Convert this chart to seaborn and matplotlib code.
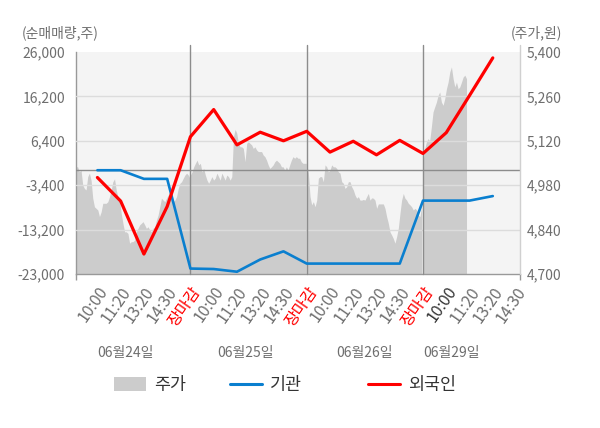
import numpy as np
import pandas as pd
import matplotlib
matplotlib.use("Agg")
import matplotlib.pyplot as plt
import seaborn as sns
from matplotlib.patches import Patch
from matplotlib.lines import Line2D

# ---------------- data ----------------
day_labels = ["06월24일", "06월25일", "06월26일", "06월29일"]
slot_labels = (["10:00", "11:20", "13:20", "14:30", "장마감"] * 3
               + ["10:00", "11:20", "13:20", "14:30"])

# estimated net buying (shares) at 10:00, 11:20, 13:20, 14:30, close
foreign = [-1700, -6900, -18600, -8100, 7300,
           13300, 5500, 8300, 6400, 8500,
           3900, 6300, 3300, 6500, 3600,
           8200, 16400, 24700]
institution = [-100, -100, -2000, -2000, -21800,
               -21900, -22500, -19800, -18000, -20700,
               -20700, -20700, -20700, -20700, -6800,
               -6800, -6800, -5800]

# intraday price (won), sampled evenly through each session
price_d1 = [5038, 5038, 5022, 5028, 4981, 4970, 4965, 5007, 5018, 4996,
            4939, 4912, 4907, 4902, 4881, 4896, 4923, 4923, 4923, 4928,
            4944, 4965, 4991, 5000, 4965, 4944, 4933, 4891, 4860, 4833,
            4833, 4828, 4797, 4802, 4802, 4807, 4833, 4844, 4855, 4860,
            4865, 4855, 4844, 4849, 4839, 4833, 4844, 4849, 4870, 4886,
            4912, 4939, 4933, 4928, 4939, 4949, 4954, 4944, 4928, 4933,
            4944, 4970, 4986, 4991, 5002, 5012, 5018, 5012, 5002]
price_d2 = [5012, 5022, 5038, 5049, 5059, 5044, 5049, 5022, 5033, 5012,
            4996, 4986, 4996, 5007, 4996, 5002, 5018, 5007, 4996, 5018,
            5007, 4996, 5012, 5007, 4996, 5007, 5133, 5156, 5144, 5112,
            5101, 5101, 5096, 5054, 5112, 5117, 5112, 5107, 5096, 5101,
            5091, 5086, 5086, 5086, 5075, 5070, 5059, 5044, 5033, 5038,
            5044, 5054, 5059, 5054, 5049, 5038, 5038, 5028, 5038, 5028,
            5044, 5059, 5070, 5065, 5070, 5065, 5065, 5054, 5049, 5049,
            5049]
price_d3 = [5049, 5018, 4944, 4918, 4928, 4912, 4933, 5002, 5007, 5007,
            4991, 5044, 5038, 5022, 5028, 5044, 5038, 5038, 5033, 5022,
            5018, 4991, 4986, 4970, 4975, 4991, 4991, 4975, 4965, 4949,
            4939, 4944, 4933, 4933, 4935, 4933, 4944, 4954, 4933, 4940,
            4939, 4933, 4907, 4921, 4921, 4921, 4921, 4907, 4881, 4860,
            4833, 4823, 4812, 4797, 4818, 4844, 4891, 4933, 4954, 4939,
            4933, 4923, 4918, 4912, 4902, 4907, 4902, 4886, 4881, 4912]
price_d4 = [5053, 5095, 5116, 5127, 5120, 5164, 5211, 5227, 5242, 5263,
            5274, 5242, 5232, 5253, 5284, 5305, 5337, 5353, 5316, 5290,
            5305, 5284, 5290, 5305, 5321, 5327, 5316]

left_ticks = [26000, 16200, 6400, -3400, -13200, -23000]
right_ticks = [5400, 5260, 5120, 4980, 4840, 4700]

# ---------------- layout ----------------
W, H = 600, 428
X0, X1 = 0.08, 19.17
day_spans = [(0.08, 4.98), (5.0, 9.98), (10.0, 14.94), (15.0, 16.87)]
date_label_x = [2.19, 7.35, 12.5, 16.24]

sns.set_theme(style="white")
plt.rcParams["font.family"] = ["Noto Sans CJK KR", "DejaVu Sans"]

GRAY_TXT = "#6e6e6e"
AREA = "#cccccc"
RED = "#ff0000"
BLUE = "#0a7fcf"

fig = plt.figure(figsize=(W / 100, H / 100), dpi=100)
ax = fig.add_axes([76 / W, 1 - 274 / H, 444 / W, 222 / H])
axL = ax.twinx()
ax.yaxis.tick_right()
axL.yaxis.tick_left()

ax.set_facecolor("#f4f4f4")

# price area
for vals, (s0, s1) in zip([price_d1, price_d2, price_d3, price_d4], day_spans):
    xs = np.linspace(s0, s1, len(vals))
    ax.fill_between(xs, 4700, vals, color=AREA, lw=0, zorder=1)
ax.set_ylim(4700, 5400)
ax.set_xlim(X0, X1)

# grid & separators on the top axes (below the lines)
for v in left_ticks[1:-1]:
    axL.axhline(v, color="#dcdcdc", lw=1, zorder=1)
axL.axhline(0, color="#8c8c8c", lw=1, zorder=1.5)
ext = 1 + 7 / 222
for s in [5, 10, 15]:
    axL.axvline(s, ymin=0, ymax=ext, color="#8c8c8c", lw=1, clip_on=False, zorder=1.5)
axL.axvline(X1, ymin=0, ymax=ext, color="#d0d0d0", lw=1, clip_on=False, zorder=1.5)

# lines
slot_x = np.arange(1, len(foreign) + 1)
df = pd.DataFrame({"slot": slot_x, "foreign": foreign, "institution": institution})
sns.lineplot(data=df, x="slot", y="institution", ax=axL, color=BLUE, lw=1.9,
             legend=False, zorder=3)
sns.lineplot(data=df, x="slot", y="foreign", ax=axL, color=RED, lw=2.3,
             legend=False, zorder=4)
axL.set_ylim(-23000, 26000)
axL.set_xlim(X0, X1)
axL.set_xlabel("")
axL.set_ylabel("")
ax.set_ylabel("")

# spines
for sp in axL.spines.values():
    sp.set_visible(False)
ax.spines["top"].set_visible(False)
ax.spines["right"].set_visible(False)
ax.spines["left"].set_color("#999999")
ax.spines["bottom"].set_color("#999999")
ax.spines["left"].set_linewidth(1)
ax.spines["bottom"].set_linewidth(1)

# y ticks
axL.set_yticks(left_ticks)
axL.set_yticklabels([f"{v:,}" for v in left_ticks])
axL.tick_params(axis="y", length=0, pad=8, labelsize=10, labelcolor=GRAY_TXT)
ax.set_yticks(right_ticks)
ax.set_yticklabels([f"{v:,}" for v in right_ticks])
ax.tick_params(axis="y", length=0, pad=5, labelsize=10, labelcolor=GRAY_TXT)

# x ticks
ax.set_xticks(np.arange(1, len(slot_labels) + 1))
ax.set_xticklabels(slot_labels)
ax.set_xticks([X0, 5, 10, 15, X1], minor=True)
ax.tick_params(axis="x", which="major", length=0, pad=7, labelsize=11.5)
ax.tick_params(axis="x", which="minor", length=4, width=1, color="#999999",
               direction="out", bottom=True)
for i, lab in enumerate(ax.get_xticklabels()):
    lab.set_rotation(55)
    lab.set_ha("right")
    lab.set_va("top")
    lab.set_rotation_mode("anchor")
    txt = slot_labels[i]
    if txt == "장마감":
        lab.set_color(RED)
    elif i == 15:
        lab.set_color("#333333")
    else:
        lab.set_color(GRAY_TXT)

# date labels
for xd, d in zip(date_label_x, day_labels):
    ax.text(xd, -79 / 222, d, transform=ax.get_xaxis_transform(), ha="center",
            va="center", fontsize=10, color=GRAY_TXT)

# axis titles
fig.text(22 / W, 1 - 33 / H, "(순매매량,주)", ha="left", va="center",
         fontsize=10, color=GRAY_TXT)
fig.text(562 / W, 1 - 33 / H, "(주가,원)", ha="right", va="center",
         fontsize=10, color=GRAY_TXT)

# legend
leg_items = [
    (Patch(facecolor=AREA, edgecolor="none"), "주가", 114),
    (Line2D([], [], color=BLUE, lw=2.2), "기관", 230),
    (Line2D([], [], color=RED, lw=2.2), "외국인", 368),
]
for h, t, xp in leg_items:
    lg = fig.legend([h], [t], loc="center left", bbox_to_anchor=(xp / W, 1 - 385 / H),
                    frameon=False, borderpad=0, borderaxespad=0, handlelength=1.85,
                    handleheight=0.85, handletextpad=0.45, fontsize=12.5)
    for tx in lg.get_texts():
        tx.set_color("#333333")

fig.savefig("out.png", dpi=100)
